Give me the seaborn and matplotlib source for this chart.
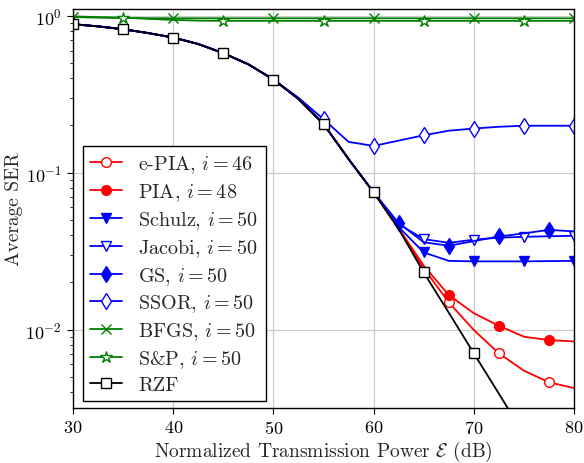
import numpy as np
import pandas as pd
import matplotlib
matplotlib.use("Agg")
import matplotlib.pyplot as plt
from matplotlib.ticker import LogLocator, NullFormatter
import seaborn as sns

# Transmission power grid (dB)
power_db = [30, 32.5, 35, 37.5, 40, 42.5, 45, 47.5, 50, 52.5, 55, 57.5,
            60, 62.5, 65, 67.5, 70, 72.5, 75, 77.5, 80]

# Average SER per precoder
ser_rzf = [0.883, 0.855, 0.820, 0.775, 0.726, 0.660, 0.577, 0.490, 0.392, 0.295,
           0.204, 0.122, 0.0748, 0.0437, 0.0231, 0.0128, 0.00705, 0.0039, 0.00215,
           0.00118, 0.00065]
ser_epia = [0.883, 0.855, 0.820, 0.775, 0.726, 0.660, 0.577, 0.490, 0.392, 0.295,
            0.204, 0.122, 0.0748, 0.0438, 0.0245, 0.0149, 0.00993, 0.00705, 0.00547,
            0.00461, 0.00424]
ser_pia = [0.883, 0.855, 0.820, 0.775, 0.726, 0.660, 0.577, 0.490, 0.392, 0.295,
           0.204, 0.122, 0.0748, 0.0442, 0.0255, 0.0166, 0.0127, 0.01057, 0.0090,
           0.00857, 0.0084]
ser_schulz = [0.883, 0.855, 0.820, 0.775, 0.726, 0.660, 0.577, 0.490, 0.392, 0.295,
              0.204, 0.122, 0.0748, 0.045, 0.031, 0.0274, 0.0272, 0.0272, 0.0272,
              0.0273, 0.0274]
ser_jacobi = [0.883, 0.855, 0.820, 0.775, 0.726, 0.660, 0.577, 0.490, 0.392, 0.295,
              0.204, 0.122, 0.0748, 0.047, 0.0377, 0.0357, 0.0374, 0.0385, 0.039,
              0.0393, 0.0396]
ser_gs = [0.883, 0.855, 0.820, 0.775, 0.726, 0.660, 0.577, 0.490, 0.392, 0.295,
          0.204, 0.122, 0.0748, 0.0477, 0.036, 0.0342, 0.0366, 0.0392, 0.041,
          0.0432, 0.0422]
ser_ssor = [0.883, 0.855, 0.820, 0.775, 0.726, 0.660, 0.577, 0.490, 0.392, 0.30,
            0.219, 0.157, 0.148, 0.160, 0.173, 0.185, 0.191, 0.196, 0.199,
            0.199, 0.199]
ser_bfgs = [0.980, 0.972, 0.967, 0.964, 0.963, 0.963, 0.963, 0.963, 0.963, 0.963,
            0.963, 0.963, 0.963, 0.963, 0.963, 0.963, 0.963, 0.963, 0.963,
            0.963, 0.963]
ser_sp = [0.990, 0.980, 0.972, 0.955, 0.940, 0.930, 0.927, 0.927, 0.927, 0.927,
          0.927, 0.927, 0.927, 0.927, 0.927, 0.927, 0.927, 0.927, 0.927,
          0.927, 0.927]

labels = [r"e-PIA, $i=46$", r"PIA, $i=48$", r"Schulz, $i=50$", r"Jacobi, $i=50$",
          r"GS, $i=50$", r"SSOR, $i=50$", r"BFGS, $i=50$", r"S&P, $i=50$", "RZF"]

sns.set_theme(style="whitegrid")
plt.rcParams.update({
    "font.family": "serif",
    "font.serif": ["cmr10"],
    "mathtext.fontset": "cm",
    "axes.formatter.use_mathtext": True,
    "axes.unicode_minus": False,
    "axes.edgecolor": "black",
    "axes.linewidth": 1.0,
    "grid.color": "#cccccc",
    "grid.linewidth": 0.9,
    "xtick.bottom": True,
    "ytick.left": True,
    "xtick.color": "black",
    "ytick.color": "black",
    "font.size": 13,
})

fig = plt.figure(figsize=(5.84, 4.64), dpi=100)
ax = fig.add_axes([0.125, 0.1185, 0.858, 0.8595])

styles = [
    (ser_epia, "red", "o", "white", slice(15, None, 2)),
    (ser_pia, "red", "o", "red", slice(15, None, 2)),
    (ser_schulz, "blue", "v", "blue", slice(14, None, 2)),
    (ser_jacobi, "blue", "v", "white", slice(14, None, 2)),
    (ser_gs, "blue", "d", "blue", slice(13, None, 2)),
    (ser_ssor, "blue", "d", "white", slice(10, None, 2)),
    (ser_bfgs, "green", "x", "green", slice(0, None, 4)),
    (ser_sp, "green", "*", "white", slice(2, None, 4)),
    (ser_rzf, "black", "s", "white", slice(0, None, 2)),
]

for (vals, color, marker, face, every), label in zip(styles, labels):
    df = pd.DataFrame({"power": power_db, "ser": vals})
    ms = 9 if marker == "*" else (8 if marker == "d" else 7)
    sns.lineplot(data=df, x="power", y="ser", ax=ax, color=color, marker=marker,
                 markerfacecolor=face, markeredgecolor=color, markersize=ms,
                 markeredgewidth=1.0, linewidth=1.3, markevery=every, label=label,
                 errorbar=None, sort=False)

ax.set_yscale("log")
ax.set_xlim(30, 80)
ax.set_ylim(10 ** -2.5, 1.1)
ax.set_xticks([30, 40, 50, 60, 70, 80])
ax.yaxis.set_major_locator(LogLocator(base=10, numticks=10))
ax.yaxis.set_minor_locator(LogLocator(base=10, subs=np.arange(2, 10), numticks=10))
ax.yaxis.set_minor_formatter(NullFormatter())
ax.tick_params(axis="both", which="major", direction="out", length=4, width=0.8,
               labelsize=13, pad=4)
ax.tick_params(axis="y", which="minor", direction="out", length=2, width=0.6, left=True)
ax.grid(True, which="major")
ax.grid(False, which="minor")
for s in ax.spines.values():
    s.set_color("black")
    s.set_linewidth(1.0)

ax.set_xlabel(r"Normalized Transmission Power $\mathcal{E}$ (dB)", fontsize=14,
              labelpad=2)
ax.set_ylabel("Average SER", fontsize=14, labelpad=2)

leg = ax.legend(loc="lower left", bbox_to_anchor=(0.02, 0.017), borderaxespad=0,
                fontsize=14.5, frameon=True, fancybox=False, edgecolor="black",
                framealpha=1.0, handlelength=1.6, labelspacing=0.3,
                borderpad=0.35, handletextpad=0.8)
leg.get_frame().set_linewidth(1.0)

fig.savefig("out.png", dpi=100)
